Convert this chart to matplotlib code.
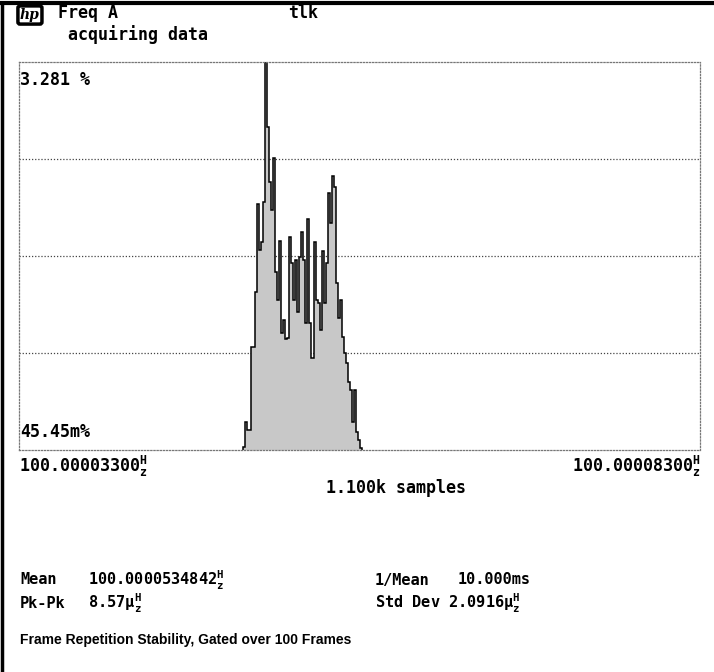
import numpy as np
import matplotlib
matplotlib.use("Agg")
import matplotlib.pyplot as plt
from matplotlib.lines import Line2D

# histogram of frequency readings (offset from 100 Hz in uHz), percent of samples
bin_start = 49.45
bin_width = 0.1478
pct = [0.025, 0.237, 0.169, 0.169, 0.871, 0.871, 1.336, 2.080, 1.691, 1.759,
       2.097, 3.281, 2.731, 2.266, 2.029, 2.469, 1.505, 1.268, 1.767, 0.989,
       1.099, 0.939, 0.947, 1.801, 1.581, 1.268, 1.607, 1.167, 1.632, 1.843,
       1.607, 1.074, 1.953, 1.074, 0.778, 1.759, 1.268, 1.243, 1.015, 1.683,
       1.243, 1.581, 2.173, 1.920, 2.317, 2.224, 1.412, 1.116, 1.268, 0.956,
       0.820, 0.736, 0.575, 0.507, 0.237, 0.507, 0.152, 0.085, 0.017]
x_lo, x_hi = 33.0, 83.0
y_top = 3.281

W, H = 714, 672
plt.rcParams['mathtext.fontset'] = 'custom'
plt.rcParams['mathtext.rm'] = 'DejaVu Sans Mono:bold'
plt.rcParams['mathtext.it'] = 'DejaVu Sans Mono:bold'
mono = dict(family='DejaVu Sans Mono', weight='bold', color='black')

fig = plt.figure(figsize=(W / 100, H / 100), dpi=100)

def px(x, y):
    return x / W, 1 - y / H

ax = fig.add_axes([19 / W, (H - 450) / H, (700 - 19) / W, (450 - 62) / H])
edges = bin_start + bin_width * np.arange(len(pct) + 1)
ax.stairs(pct, edges, fill=True, color='#c8c8c8', lw=0)
ax.stairs(pct, edges, color='black', lw=1.1)
ax.set_xlim(x_lo, x_hi)
ax.set_ylim(0, y_top)
for f in [0.25, 0.5, 0.75]:
    ax.axhline(y_top * f, color='#444444', lw=0.9, ls=(0, (1, 1.5)), zorder=0)
for s in ax.spines.values():
    s.set_linestyle((0, (1, 1.5)))
    s.set_color('#777777')
    s.set_linewidth(0.9)
ax.set_xticks([])
ax.set_yticks([])
ax.patch.set_alpha(0)

# outer frame (top and left only)
fig.add_artist(Line2D([0, 1], [1 - 3 / H, 1 - 3 / H], color='black', lw=3, transform=fig.transFigure))
fig.add_artist(Line2D([2 / W, 2 / W], [0, 1 - 3 / H], color='black', lw=2.5, transform=fig.transFigure))

hz = r'$^{\mathrm{H}}_{\mathrm{z}}$'
fs = 12
fs2 = 11
fig.text(*px(20, 15), 'hp', style='italic', weight='bold', fontsize=10, family='DejaVu Serif',
         va='center', ha='left',
         bbox=dict(boxstyle='round,pad=0.15', fc='white', ec='black', lw=2.5))
fig.text(*px(58, 13), 'Freq A', fontsize=fs, va='center', **mono)
fig.text(*px(288, 13), 'tlk', fontsize=fs, va='center', **mono)
fig.text(*px(68, 35), 'acquiring data', fontsize=fs, va='center', **mono)
fig.text(*px(20, 80), '3.281 %', fontsize=fs, va='center', **mono)
fig.text(*px(20, 432), '45.45m%', fontsize=fs, va='center', **mono)
fig.text(*px(19, 466), '100.00003300' + hz, fontsize=fs, va='center', **mono)
fig.text(*px(700, 466), '100.00008300' + hz, fontsize=fs, va='center', ha='right', **mono)
fig.text(*px(396, 488), '1.100k samples', fontsize=fs, va='center', ha='center', **mono)

fig.text(*px(20, 580), 'Mean', fontsize=fs2, va='center', **mono)
fig.text(*px(88, 580), '100.0000534842' + hz, fontsize=fs2, va='center', **mono)
fig.text(*px(375, 580), '1/Mean', fontsize=fs2, va='center', **mono)
fig.text(*px(458, 580), '10.000ms', fontsize=fs2, va='center', **mono)
fig.text(*px(20, 603), 'Pk-Pk', fontsize=fs2, va='center', **mono)
fig.text(*px(88, 603), '8.57µ' + hz, fontsize=fs2, va='center', **mono)
fig.text(*px(375, 603), 'Std Dev 2.0916µ' + hz, fontsize=fs2, va='center', **mono)

fig.text(*px(20, 640), 'Frame Repetition Stability, Gated over 100 Frames', fontsize=10,
         family='Liberation Sans', weight='bold', va='center')

fig.savefig('out.png', dpi=100)
